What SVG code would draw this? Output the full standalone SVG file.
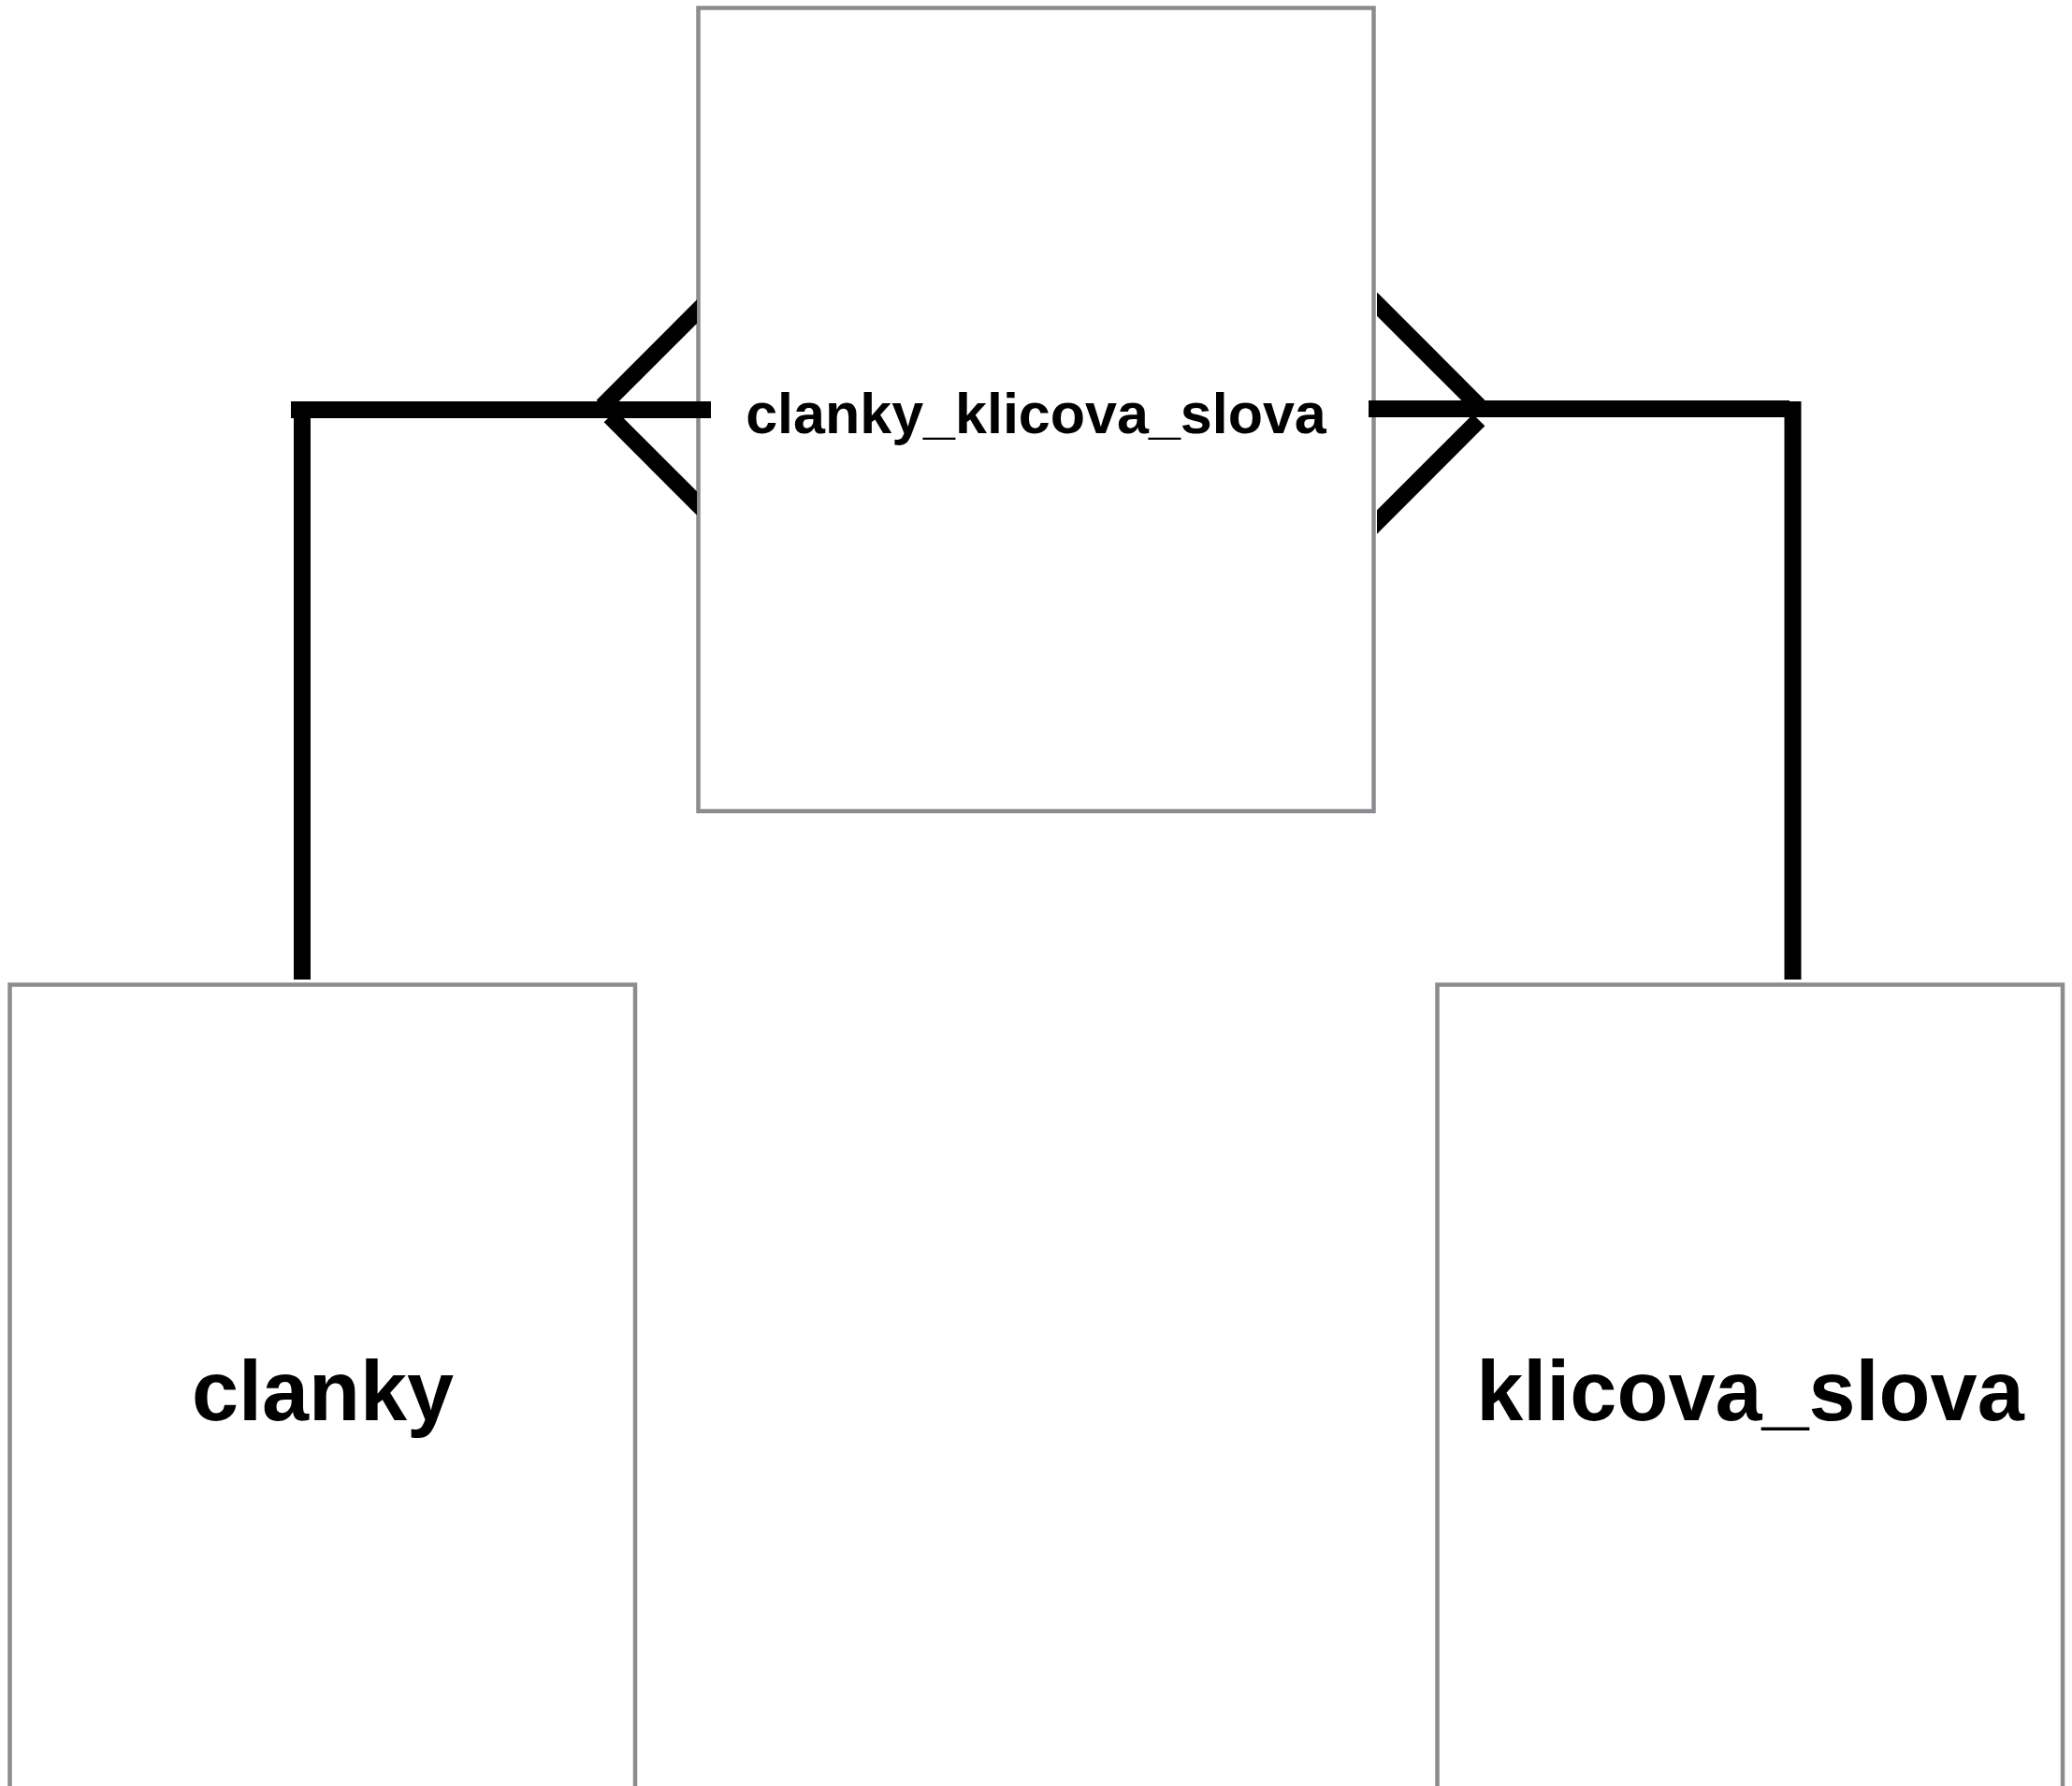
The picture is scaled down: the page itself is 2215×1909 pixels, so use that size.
<svg xmlns="http://www.w3.org/2000/svg" width="2215" height="1909" viewBox="0 0 2215 1909">
<style>
.box{fill:#ffffff;stroke:#8a8c90;stroke-width:4.5}
.lbl{font-family:"Liberation Sans",Arial,sans-serif;font-weight:bold;fill:#000;text-anchor:middle}
.big{font-size:90px}
.mid{font-size:61px}
.con{fill:none;stroke:#000;stroke-width:18;stroke-linecap:butt;stroke-linejoin:miter}
</style>
<defs>
<clipPath id="clipL"><rect x="0" y="0" width="745" height="1909"/></clipPath>
<clipPath id="clipR"><rect x="1472" y="0" width="743" height="1909"/></clipPath>
</defs>
<rect width="2215" height="1909" fill="#ffffff"/>
<g id="node-clanky_klicova_slova">
<rect class="box" x="746.5" y="8.5" width="722" height="858.5"/>
<text class="lbl mid" x="1107.5" y="463">clanky_klicova_slova</text>
</g>
<g id="node-clanky">
<rect class="box" x="10.5" y="1052.5" width="668.5" height="870"/>
<text class="lbl big" x="345" y="1518">clanky</text>
</g>
<g id="node-klicova_slova">
<rect class="box" x="1536.5" y="1052.5" width="668.5" height="870"/>
<text class="lbl big" x="1871" y="1518">klicova_slova</text>
</g>
<g id="connectors">
<path class="con" d="M323 1047 V438"/>
<path class="con" d="M311 438 H760"/>
<g clip-path="url(#clipL)">
<path class="con" d="M644 434 L760 318"/>
<path class="con" d="M652 445 L760 553"/>
</g>
<path class="con" d="M1916.5 1047 V429"/>
<path class="con" d="M1463 437 H1913"/>
<g clip-path="url(#clipR)">
<path class="con" d="M1457 310 L1581 434"/>
<path class="con" d="M1581 449 L1457 573"/>
</g>
</g>
</svg>
